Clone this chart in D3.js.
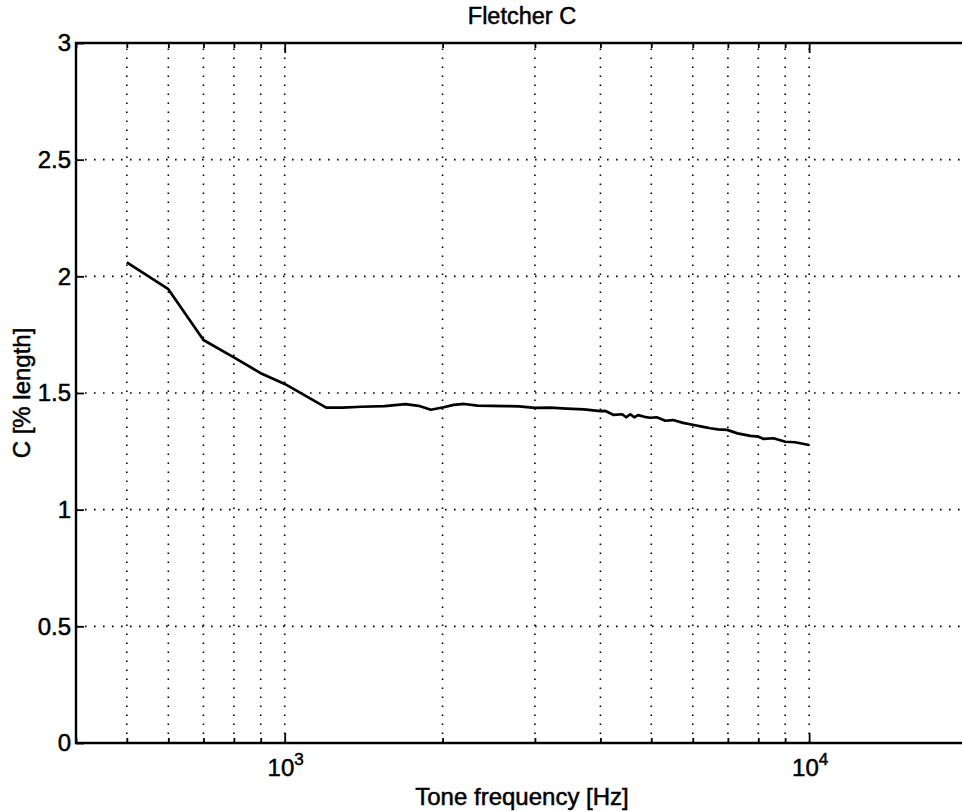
<!DOCTYPE html>
<html lang="en">
<head>
<meta charset="UTF-8">
<title>Fletcher C</title>
<script src="https://d3js.org/d3.v7.min.js"></script>
<style>
  body { margin: 0; background: #fff; }
  text { font-family: "Liberation Sans", Arial, Helvetica, sans-serif; fill: #000; stroke: #000; stroke-width: 0.5px; }
</style>
</head>
<body>
<script>
// tone frequency [Hz] and Fletcher C [% length]
var freqs = [500, 600, 700, 800, 900, 1000, 1200, 1290, 1400, 1550, 1700, 1800, 1900, 2010, 2100, 2200, 2330, 2480, 2620, 2800, 3000, 3210, 3450, 3720, 4000, 4090, 4240, 4400, 4480, 4560, 4640, 4720, 4850, 4980, 5120, 5320, 5500, 5750, 6030, 6250, 6480, 6700, 6980, 7300, 7730, 8000, 8200, 8550, 9010, 9400, 10000];
var cValues = [2.06, 1.945, 1.727, 1.653, 1.585, 1.539, 1.437, 1.437, 1.441, 1.444, 1.452, 1.445, 1.428, 1.439, 1.449, 1.453, 1.446, 1.445, 1.444, 1.443, 1.436, 1.437, 1.433, 1.430, 1.422, 1.423, 1.406, 1.409, 1.396, 1.409, 1.396, 1.405, 1.398, 1.394, 1.396, 1.381, 1.384, 1.372, 1.363, 1.356, 1.349, 1.344, 1.342, 1.327, 1.316, 1.313, 1.303, 1.306, 1.291, 1.289, 1.277];

var xMajor = [1000, 10000];
var xMinor = [400, 500, 600, 700, 800, 900, 2000, 3000, 4000, 5000, 6000, 7000, 8000, 9000];
var xGrid = [500, 600, 700, 800, 900, 1000, 2000, 3000, 4000, 5000, 6000, 7000, 8000, 9000, 10000];
var yTicks = [0, 0.5, 1, 1.5, 2, 2.5, 3];

var width = 962, height = 811;
var pLeft = 76, pRight = 967, pTop = 43, pBottom = 743;

var svg = d3.select("body").append("svg")
    .attr("width", width).attr("height", height);

var x = d3.scaleLog().domain([400, 20000]).range([pLeft, pRight]);
var y = d3.scaleLinear().domain([0, 3]).range([pBottom, pTop]);

// dotted grid
var grid = svg.append("g")
    .attr("stroke", "#000")
    .attr("stroke-width", 1.6)
    .attr("stroke-dasharray", "1.6,7.4");
grid.selectAll(".vg").data(xGrid).enter().append("line")
    .attr("x1", function(d) { return x(d); })
    .attr("x2", function(d) { return x(d); })
    .attr("y1", pBottom).attr("y2", pTop);
grid.selectAll(".hg").data(yTicks.slice(1, -1)).enter().append("line")
    .attr("y1", function(d) { return y(d); })
    .attr("y2", function(d) { return y(d); })
    .attr("x1", pLeft).attr("x2", pRight);

// ticks pointing inward, bottom and top
function tickAxis(g, axis) {
    g.call(axis);
    g.select(".domain").remove();
    g.selectAll(".tick line").attr("stroke", "#000").attr("stroke-width", 1.8);
    g.selectAll(".tick text").remove();
}
svg.append("g").attr("transform", "translate(0," + pBottom + ")")
    .call(tickAxis, d3.axisBottom(x).tickValues(xMajor).tickSize(-10));
svg.append("g").attr("transform", "translate(0," + pBottom + ")")
    .call(tickAxis, d3.axisBottom(x).tickValues(xMinor).tickSize(-5));
svg.append("g").attr("transform", "translate(0," + pTop + ")")
    .call(tickAxis, d3.axisTop(x).tickValues(xMajor).tickSize(-10));
svg.append("g").attr("transform", "translate(0," + pTop + ")")
    .call(tickAxis, d3.axisTop(x).tickValues(xMinor).tickSize(-5));

var yAxis = svg.append("g").attr("transform", "translate(" + pLeft + ",0)")
    .call(d3.axisLeft(y).tickValues(yTicks).tickSize(-8)
        .tickFormat(function(d) { return String(d); }));
yAxis.select(".domain").remove();
yAxis.selectAll(".tick line").attr("stroke", "#000").attr("stroke-width", 1.8);
yAxis.selectAll(".tick text")
    .attr("x", -5)
    .attr("fill", "#000")
    .style("font-size", "24px")
    .style("font-family", "'Liberation Sans', Arial, sans-serif");

// frame: left, top, bottom (right edge falls outside the window)
svg.append("path")
    .attr("d", "M" + pRight + "," + pTop + "H" + pLeft + "V" + pBottom + "H" + pRight)
    .attr("fill", "none")
    .attr("stroke", "#000")
    .attr("stroke-width", 2.4);

// x labels 10^3, 10^4
var xl = svg.append("g").selectAll("text").data(xMajor).enter().append("text")
    .attr("x", function(d) { return x(d) + 1; })
    .attr("y", 776)
    .attr("text-anchor", "middle")
    .style("font-size", "24px");
xl.append("tspan").text("10");
xl.append("tspan")
    .attr("dy", -11)
    .style("font-size", "17px")
    .text(function(d) { return Math.round(Math.log10(d)); });

// data line
var line = d3.line()
    .x(function(d) { return x(d); })
    .y(function(d, i) { return y(cValues[i]); });
svg.append("path")
    .datum(freqs)
    .attr("d", line)
    .attr("fill", "none")
    .attr("stroke", "#000")
    .attr("stroke-width", 2.7)
    .attr("stroke-linejoin", "round");

// titles
svg.append("text")
    .attr("x", 522).attr("y", 24)
    .attr("text-anchor", "middle")
    .style("font-size", "23.5px")
    .text("Fletcher C");
svg.append("text")
    .attr("x", 522).attr("y", 805)
    .attr("text-anchor", "middle")
    .style("font-size", "24px")
    .text("Tone frequency [Hz]");
svg.append("text")
    .attr("transform", "translate(30," + ((pTop + pBottom) / 2) + ") rotate(-90)")
    .attr("text-anchor", "middle")
    .style("font-size", "24px")
    .text("C [% length]");
</script>
</body>
</html>
